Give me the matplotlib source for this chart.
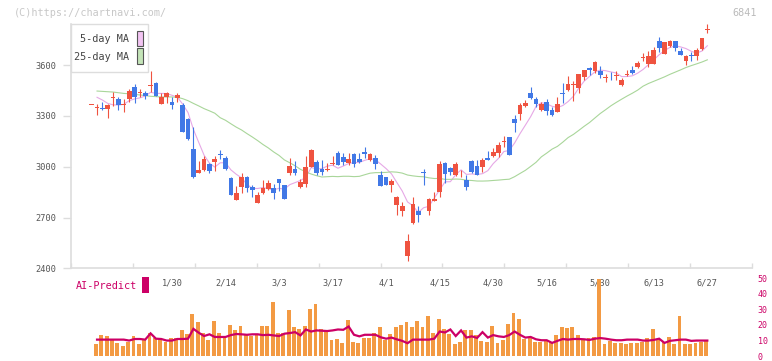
import numpy as np
import pandas as pd
import matplotlib
matplotlib.use("Agg")
import matplotlib.pyplot as plt
from matplotlib.patches import Rectangle

W, H = 772, 361

RED = "#ef5340"
BLUE = "#4178e6"
MA5_C = "#e6a8e6"
MA25_C = "#a9d69a"
VOL_C = "#f39a43"
AI_C = "#cc0066"
GRID_C = "#dddddd"
TXT_C = "#555555"
MONO = "DejaVu Sans Mono"

# daily OHLC, 2025-01-08 .. 2025-06-27 (trading days)
opens = [3368, 3349, 3349, 3339, 3408, 3400, 3368, 3400, 3469, 3439,
         3433, 3477, 3496, 3372, 3410, 3382, 3408, 3363, 3281, 3105,
         2965, 2981, 3018, 3030, 3077, 3051, 2935, 2803, 2880, 2939,
         2880, 2788, 2847, 2868, 2872, 2925, 2892, 2965, 2985, 2882,
         2900, 2996, 3026, 2985, 2985, 3014, 3083, 3055, 3020, 3073,
         3046, 3089, 3040, 3053, 2951, 2939, 2892, 2774, 2739, 2473,
         2670, 2740, 2967, 2740, 2799, 2852, 3024, 2990, 2951, 2951,
         2921, 3034, 3004, 2996, 3053, 3063, 3083, 3150, 3175, 3284,
         3311, 3360, 3437, 3400, 3335, 3382, 3335, 3325, 3435, 3453,
         3486, 3463, 3532, 3585, 3567, 3567, 3526, 3538, 3536, 3482,
         3544, 3571, 3591, 3644, 3607, 3607, 3742, 3666, 3715, 3742,
         3683, 3624, 3658, 3656, 3695, 3811]
highs = [3368, 3368, 3384, 3368, 3439, 3414, 3400, 3457, 3488, 3457,
         3449, 3565, 3502, 3437, 3441, 3410, 3433, 3374, 3290, 3233,
         3034, 3063, 3024, 3063, 3099, 3063, 2939, 2886, 2963, 2945,
         2892, 2850, 2921, 2921, 2896, 2927, 2892, 3053, 3034, 2925,
         3063, 3105, 3040, 3040, 3024, 3063, 3093, 3083, 3079, 3079,
         3083, 3118, 3079, 3069, 2975, 2939, 2925, 2827, 2794, 2603,
         2823, 2768, 2987, 2813, 2852, 3036, 3030, 3000, 3026, 2981,
         2951, 3040, 3040, 3050, 3093, 3108, 3148, 3181, 3177, 3305,
         3378, 3392, 3471, 3410, 3384, 3398, 3351, 3412, 3496, 3536,
         3506, 3548, 3571, 3591, 3626, 3595, 3548, 3561, 3567, 3526,
         3571, 3595, 3624, 3674, 3685, 3705, 3768, 3735, 3748, 3742,
         3703, 3660, 3679, 3703, 3760, 3843]
lows = [3368, 3305, 3335, 3290, 3359, 3335, 3325, 3384, 3378, 3414,
        3400, 3443, 3418, 3372, 3378, 3339, 3382, 3207, 3160, 2935,
        2961, 2975, 2965, 2977, 3044, 2981, 2835, 2803, 2847, 2853,
        2821, 2788, 2839, 2862, 2809, 2856, 2809, 2951, 2951, 2872,
        2882, 2996, 2951, 2951, 2977, 3010, 3010, 3010, 3010, 3000,
        3020, 3049, 3036, 2987, 2886, 2892, 2853, 2715, 2709, 2445,
        2662, 2675, 2892, 2715, 2799, 2823, 2902, 2951, 2945, 2937,
        2862, 2961, 2951, 2971, 3040, 3059, 3059, 3114, 3069, 3207,
        3278, 3350, 3402, 3355, 3328, 3305, 3298, 3325, 3378, 3449,
        3390, 3437, 3512, 3542, 3551, 3522, 3502, 3512, 3512, 3477,
        3536, 3548, 3585, 3626, 3591, 3607, 3679, 3666, 3709, 3685,
        3660, 3601, 3626, 3630, 3689, 3792]
closes = [3368, 3349, 3339, 3363, 3408, 3363, 3368, 3449, 3414, 3439,
          3418, 3477, 3418, 3412, 3437, 3366, 3424, 3207, 3164, 2941,
          2981, 3046, 2975, 3046, 3067, 2985, 2835, 2845, 2939, 2876,
          2864, 2833, 2872, 2904, 2847, 2906, 2809, 3004, 2965, 2910,
          2998, 3099, 2965, 2971, 2985, 3024, 3010, 3030, 3046, 3014,
          3026, 3073, 3075, 3018, 2886, 2892, 2918, 2821, 2768, 2561,
          2780, 2717, 2963, 2809, 2809, 3016, 2957, 2967, 3016, 2951,
          2882, 2971, 2951, 3040, 3040, 3089, 3128, 3152, 3071, 3260,
          3364, 3378, 3406, 3372, 3370, 3331, 3305, 3370, 3431, 3488,
          3490, 3548, 3571, 3571, 3620, 3544, 3530, 3534, 3540, 3512,
          3548, 3551, 3614, 3648, 3654, 3689, 3703, 3735, 3742, 3699,
          3660, 3654, 3654, 3689, 3760, 3815]

# moving averages before enough history is shown
ma5_head = [3410, 3394, 3374]
ma25_head = [3447, 3445, 3443, 3441, 3437, 3433, 3431, 3427, 3424, 3420,
             3416, 3414, 3412, 3412, 3412, 3410, 3402, 3390, 3374, 3359,
             3343, 3330, 3316]

# lower panel, from the 2nd day on
volume = [7.4, 13.6, 13.0, 10.5, 8.6, 6.7, 9.0, 13.0, 7.4, 10.5,
          14.9, 11.8, 11.1, 9.0, 11.8, 11.8, 16.4, 14.3, 26.9, 22.0,
          14.9, 10.1, 22.7, 14.9, 11.8, 19.9, 16.8, 19.3, 13.6, 13.0,
          13.6, 19.5, 19.5, 34.6, 14.9, 14.9, 29.4, 18.5, 17.4, 19.3,
          30.0, 33.1, 17.4, 16.1, 10.5, 11.1, 8.6, 23.1, 9.2, 8.6,
          11.8, 11.8, 14.9, 18.7, 10.5, 14.3, 18.7, 19.9, 22.0, 18.7,
          22.4, 18.7, 25.6, 14.9, 23.7, 17.4, 14.3, 7.4, 9.2, 16.8,
          16.8, 13.6, 9.9, 9.2, 19.3, 8.6, 10.5, 20.5, 27.5, 23.7,
          11.1, 11.8, 9.2, 9.2, 10.5, 9.2, 13.6, 18.7, 18.0, 18.7,
          13.6, 10.5, 11.8, 12.4, 49.5, 8.0, 9.9, 8.6, 8.6, 8.0,
          8.6, 8.6, 9.2, 11.8, 17.4, 10.5, 9.2, 12.4, 7.4, 25.6,
          8.0, 8.0, 8.6, 9.2, 10.5]
ai_predict = [10.5, 10.5, 10.5, 10.5, 10.5, 10.5, 9.9, 10.9, 10.9, 10.5,
              14.5, 11.1, 10.9, 9.9, 9.9, 10.9, 10.9, 11.1, 17.4, 14.9,
              12.8, 13.9, 12.2, 12.2, 12.2, 13.4, 14.1, 13.9, 13.6, 13.9,
              13.9, 13.4, 13.6, 13.2, 12.8, 14.3, 14.7, 15.3, 13.2, 17.0,
              15.7, 16.4, 16.2, 16.0, 16.4, 17.0, 16.8, 18.9, 13.6, 12.6,
              13.6, 13.6, 13.6, 12.0, 11.1, 11.8, 10.7, 9.7, 8.2, 10.5,
              10.5, 10.5, 10.5, 11.1, 15.7, 15.1, 17.0, 12.8, 16.4, 11.8,
              12.6, 11.6, 15.3, 11.8, 13.4, 12.6, 12.2, 13.4, 15.7, 13.6,
              11.8, 12.2, 10.7, 10.1, 10.1, 8.4, 9.7, 10.9, 10.5, 10.9,
              10.9, 10.7, 10.3, 11.1, 11.5, 11.1, 10.5, 10.1, 10.1, 10.5,
              10.5, 10.5, 9.9, 9.9, 10.3, 11.1, 8.4, 9.7, 10.1, 10.5,
              10.5, 9.7, 9.9, 9.9, 9.9]

date_labels = ["1/30", "2/14", "3/3", "3/17", "4/1", "4/15",
               "4/30", "5/16", "5/30", "6/13", "6/27"]
label_pos = [15, 25, 35, 45, 55, 65, 75, 85, 95, 105, 115]
price_ticks = [2400, 2700, 3000, 3300, 3600]
ai_ticks = [0, 10, 20, 30, 40, 50]


def fx(x):
    return x / W


def fy(y):
    return 1 - y / H


n = len(closes)
idx = np.arange(n)
o = np.array(opens, dtype=float)
c = np.array(closes, dtype=float)

cl = pd.Series(c)
ma5 = cl.rolling(5).mean()
ma5.iloc[1:4] = ma5_head
ma25 = cl.rolling(25).mean()
ma25.iloc[1:24] = ma25_head

XLIM = (-3.92, 123.4)

fig = plt.figure(figsize=(W / 100, H / 100), dpi=100)
ax = fig.add_axes([fx(70.7), fy(268.3), fx(752.3) - fx(70.7), fy(24) - fy(268.3)])
vx = fig.add_axes([fx(70.7), fy(356.0), fx(752.3) - fx(70.7), fy(278.0) - fy(356.0)])

# ── candles ────────────────────────────────────────────────────────────────
colors = np.where(c >= o, RED, BLUE)
ax.vlines(idx, lows, highs, colors=colors, lw=0.8, clip_on=False, zorder=3)
diff = np.abs(c - o)
body_h = np.maximum(diff, 5.5)
body_b = np.where(diff < 5.5, (o + c) / 2 - 2.75, np.minimum(o, c))
ax.bar(idx, body_h, bottom=body_b, width=0.88, color=colors, linewidth=0,
       clip_on=False, zorder=3)

ax.plot(idx, ma5, color=MA5_C, lw=0.8, zorder=2)
ax.plot(idx, ma25, color=MA25_C, lw=0.8, zorder=2)

ax.set_xlim(*XLIM)
ax.set_ylim(2400, 3843)
ax.set_yticks(price_ticks)
ax.set_yticklabels([str(t) for t in price_ticks], family=MONO)
ax.tick_params(axis="y", direction="out", length=6, width=1, color=GRID_C,
               labelsize=6.2, labelcolor=TXT_C, pad=4)
ax.set_xticks(np.linspace(XLIM[0], XLIM[1], 12))
ax.set_xticklabels([])
ax.tick_params(axis="x", direction="in", length=3.5, width=1, color=GRID_C)
for s in ["top", "right"]:
    ax.spines[s].set_visible(False)
for s in ["left", "bottom"]:
    ax.spines[s].set_color(GRID_C)
    ax.spines[s].set_linewidth(1.2)

for p, lab in zip(label_pos, date_labels):
    ax.text(p, -0.061, lab, transform=ax.get_xaxis_transform(), ha="center",
            va="center", fontsize=6.2, color=TXT_C, family=MONO)

# ── lower panel ────────────────────────────────────────────────────────────
vx.patch.set_visible(False)
vx.bar(idx[1:] - 0.2, volume, width=0.72, color=VOL_C, linewidth=0,
       clip_on=False)
vx.plot(idx[1:], ai_predict, color=AI_C, lw=1.6, solid_joinstyle="miter")
vx.set_xlim(*XLIM)
vx.set_ylim(0, 50)
vx.set_xticks([])
vx.yaxis.tick_right()
vx.set_yticks(ai_ticks)
vx.set_yticklabels([str(t) for t in ai_ticks], family=MONO)
vx.tick_params(axis="y", length=0, labelsize=6, labelcolor=AI_C, pad=4)
for s in vx.spines.values():
    s.set_visible(False)

# ── labels and legend ──────────────────────────────────────────────────────
fig.text(fx(14), fy(12.5), "(C)https://chartnavi.com/", color="#c8c8c8",
         fontsize=7.3, family=MONO, va="center")
fig.text(fx(757), fy(12.5), "6841", color="#bbbbbb", fontsize=7.3,
         family=MONO, va="center", ha="right")

fig.text(fx(76), fy(286), "AI-Predict", color=AI_C, fontsize=7.3,
         family=MONO, va="center")
fig.add_artist(Rectangle((fx(142.3), fy(292.7)), (148.7 - 142.3) / W,
                         (292.7 - 277.3) / H, transform=fig.transFigure,
                         facecolor=AI_C, edgecolor="none"))

fig.add_artist(Rectangle((fx(70.7), fy(72)), (148 - 70.7) / W, 48 / H,
                         transform=fig.transFigure, facecolor="white",
                         edgecolor=GRID_C, lw=1, zorder=5))
for ytxt, ysw, lab, col in [(38.5, 31, "5-day MA", "#f2c4f2"),
                            (56.5, 48.5, "25-day MA", "#c4e4b8")]:
    fig.text(fx(129.5), fy(ytxt), lab, color="#444444", fontsize=7.3,
             family=MONO, va="center", ha="right", zorder=6)
    fig.add_artist(Rectangle((fx(137), fy(ysw + 15)), 5.7 / W, 15 / H,
                             transform=fig.transFigure, facecolor=col,
                             edgecolor="#555555", lw=0.8, zorder=6))

fig.savefig("out.png", dpi=100)
